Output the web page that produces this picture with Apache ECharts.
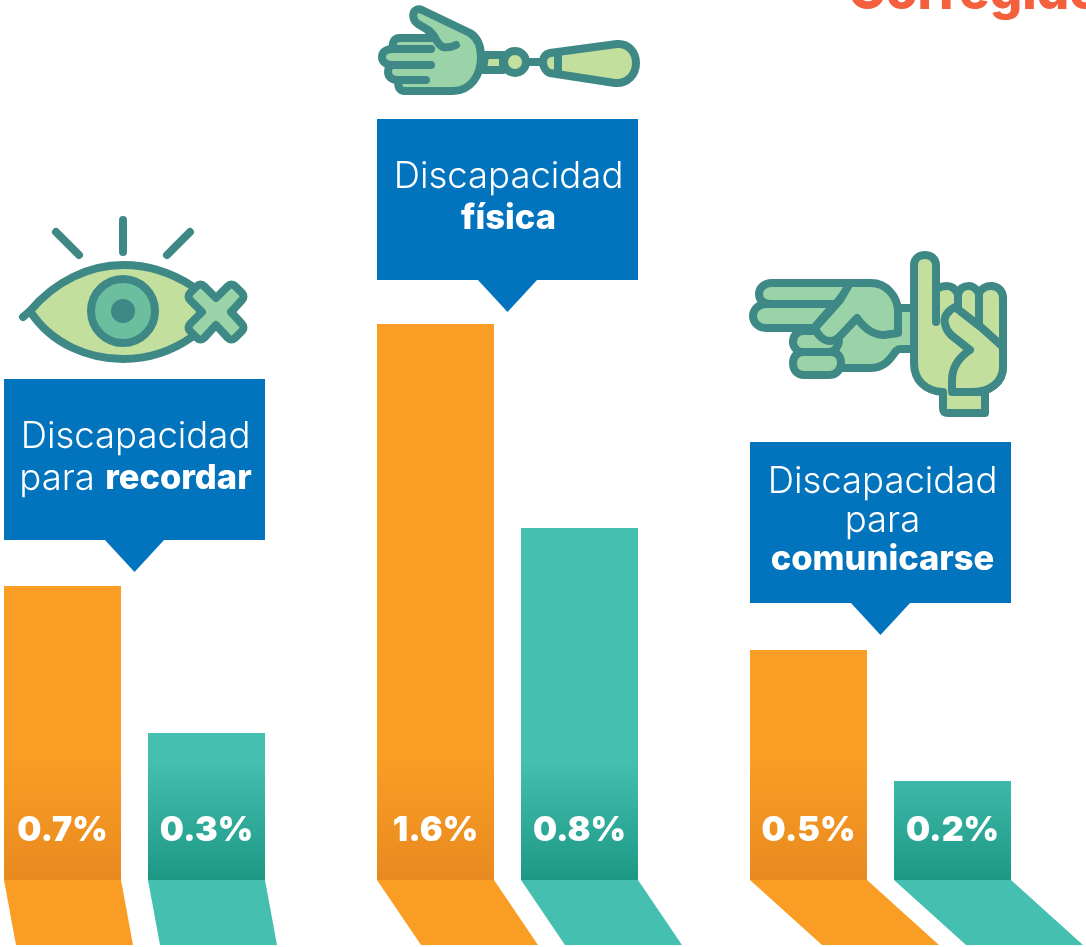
<!DOCTYPE html>
<html>
<head>
<meta charset="utf-8">
<style>html,body{margin:0;padding:0;background:#fff}#c{width:1086px;height:947px}</style>
<script src="https://cdn.jsdelivr.net/npm/echarts@6/dist/echarts.min.js"></script>
</head>
<body>
<div id="c"></div>
<script>
// ---- data ----
const seriesKeys = ['Sin corregir', 'Corregido'];
const recordarHeights = [0.846, 0.423];   // drawn bar heights (the picture is not to scale with its labels)
const fisicaHeights = [1.6, 1.013];
const comunicarseHeights = [0.662, 0.285];
const recordarLabels = ['0.7%', '0.3%'];
const fisicaLabels = ['1.6%', '0.8%'];
const comunicarseLabels = ['0.5%', '0.2%'];
const recordarCallout = '{l|Discapacidad}\n{l|para }{b|recordar}';
const fisicaCallout = '{l|Discapacidad}\n{b|física}';
const comunicarseCallout = '{l|Discapacidad}\n{l|para}\n{b|comunicarse}';
const cornerTitle = 'Corregido';

// ---- styling ----
const FONT = 'Inter';
const ORANGE = '#F99D25', ORANGE_D = '#E88A1F', TEAL = '#45BFB0', TEAL_D = '#1D9885', BLUE = '#0274BD';
const INK = '#3E8885', LEAF = '#C3DF9E', MINT = '#9BD3A8', IRIS = '#6BBE9E';
const BAR_W = 117, BAND = 144, TOP = 324, BASE = 880, FOOT = 65;

const groups = [
  {left: -9.5, heights: recordarHeights, labels: recordarLabels, callout: recordarCallout, skew: 12, gap: 46, lh: 42, tx: 1},
  {left: 363.5, heights: fisicaHeights, labels: fisicaLabels, callout: fisicaCallout, skew: 44, gap: 44, lh: 42, tx: 1},
  {left: 736.5, heights: comunicarseHeights, labels: comunicarseLabels, callout: comunicarseCallout, skew: 72, gap: 47, lh: 38.5, tx: 2}
];
const topColors = [ORANGE, TEAL];
const darkColors = [ORANGE_D, TEAL_D];

function shade(i) {
  return {type: 'linear', x: 0, y: 760, x2: 0, y2: BASE, global: true,
    colorStops: [{offset: 0, color: topColors[i]}, {offset: 1, color: darkColors[i]}]};
}

const grid = [], xAxis = [], yAxis = [], series = [];
groups.forEach((g, k) => {
  grid.push({left: g.left, width: BAND * 2, top: TOP, height: BASE - TOP, containLabel: false, outerBoundsMode: 'none'});
  xAxis.push({type: 'category', gridIndex: k, data: seriesKeys, show: false});
  yAxis.push({type: 'value', gridIndex: k, min: 0, max: 1.6, show: false});
  series.push({
    type: 'custom', xAxisIndex: k, yAxisIndex: k, silent: true, z: 1,
    data: g.heights.map((h, i) => [i, 0]),
    renderItem(params, api) {
      const i = api.value(0), p = api.coord([i, 0]);
      const l = p[0] - BAR_W / 2, r = p[0] + BAR_W / 2, y = p[1];
      return {type: 'polygon', shape: {points: [[l, y], [r, y], [r + g.skew, y + FOOT], [l + g.skew, y + FOOT]]},
        style: {fill: topColors[i]}};
    }
  });
  series.push({
    type: 'bar', xAxisIndex: k, yAxisIndex: k, barWidth: BAR_W, silent: true, z: 2,
    data: g.heights.map((h, i) => ({value: h, itemStyle: {color: shade(i)},
      label: {show: true, position: 'insideBottom', distance: 32, formatter: g.labels[i],
        color: '#fff', fontFamily: FONT, fontWeight: 900, fontSize: 34}}))
  });
  series.push({
    type: 'custom', xAxisIndex: k, yAxisIndex: k, silent: true, z: 3,
    data: [[0, g.heights[0]]],
    renderItem(params, api) {
      const p = api.coord([0, api.value(1)]);
      const l = p[0] - BAR_W / 2, w = BAND + BAR_W, b = p[1] - g.gap, t = b - 161;
      const cx = l + w / 2;
      return {type: 'group', children: [
        {type: 'rect', shape: {x: l, y: t, width: w, height: 161}, style: {fill: BLUE}},
        {type: 'polygon', shape: {points: [[cx - 30, b - 0.5], [cx + 30, b - 0.5], [cx, b + 32]]}, style: {fill: BLUE}},
        {type: 'text', x: cx + g.tx, y: t + 79, style: {
          text: g.callout, align: 'center', verticalAlign: 'middle', fill: '#fff',
          rich: {
            l: {fontFamily: FONT, fontWeight: 300, fontSize: 36.5, lineHeight: g.lh, fill: '#fff'},
            b: {fontFamily: FONT, fontWeight: 800, fontSize: 34.5, lineHeight: g.lh, fill: '#fff'}
          }
        }}
      ]};
    }
  });
});

// ---- pictograms ----
const ink = {stroke: INK, lineWidth: 8, lineJoin: 'round', lineCap: 'round'};
function P(d, fill) { return {type: 'path', shape: {pathData: d}, style: Object.assign({}, ink, {fill: fill || 'none'})}; }
function C(x, y, r, fill, noStroke) {
  return {type: 'circle', shape: {cx: x, cy: y, r}, style: noStroke ? {fill} : Object.assign({}, ink, {fill})};
}
const icons = [
  // eye
  P('M56,232L79,255M123,220L123,252M190,232L167,255'),
  P('M30,311C55,281 90,265 123,265C150,265 172,273 192,286L205,312L192,337C172,351 150,359 123,359C90,359 52,345 30,311Z', LEAF),
  P('M23,317L30,311'),
  C(123, 311, 32, IRIS), C(123, 311, 12, INK, true),
  P('M216,298L228,286C230,284 233,284 235,286L242,293C244,295 244,298 242,300L231,312L242,324C244,326 244,329 242,331L235,338C233,340 230,340 228,338L216,325L204,338C202,340 199,340 197,338L190,331C188,329 188,326 190,324L202,312L190,300C188,298 188,295 190,293L197,286C199,284 202,284 204,286Z', MINT),
  // arm
  P('M485,55L503,55L503,70L483,70Z', LEAF),
  P('M530,62L542,62'),
  C(515, 62, 11, LEAF),
  P('M543,62C543,57 546,54 550,53L617,44C628,43 636,52 636,63C636,75 627,84 615,83L550,73C546,72 543,67 543,62Z', LEAF),
  P('M558,54L558,72'),
  P('M422,10L470,33C478,38 481,48 481,57C481,76 470,91 453,91L405,91C399,91 398,87 398,80C391,80 388,76 388,72C388,68 390,65 393,65C386,65 382,62 382,57C382,52 386,49 393,49C392,44 393,38 400,38L432,38L428,30L418,24C412,20 412,12 416,10C418,9 420,9 422,10Z', MINT),
  P('M428,30C436,35 436,44 443,47C448,48 452,47 456,45M393,49L431,49M393,65L431,65M398,80L426,80'),
  // pointing hand
  {type: 'path', shape: {pathData: 'M780,283L871,283C887,283 897,297 897,310L913,310L913,349L900,349C893,349 891,368 870,368L830,368L830,335L780,328Z'}, style: {fill: MINT}},
  P('M913,308L898,308M913,349L900,349C893,349 891,368 870,368L838,368'),
  P('M803,352L831,352C838,352 841,357 841,363C841,370 836,375 829,375L804,375C797,375 793,370 793,363C793,357 797,352 803,352Z', MINT),
  P('M803,331L831,331C836,333 841,337 838,345C836,350 832,352 828,352L803,352C797,352 793,347 793,342C793,336 797,331 803,331Z', MINT),
  P('M853,283L772,283C763,283 759,289 759,294C759,300 763,304 772,304L836,304L850,286Z', MINT),
  P('M772,304L766,304C758,304 753,310 753,316C753,322 758,328 766,328L814,328L835,304Z', MINT),
  P('M815,328C818,336 824,341 830,341C836,341 838,338 842,334L857,318C864,328 872,335 884,335L898,333L898,310C897,297 887,283 871,283L850,283L840,300Z', MINT),
  // raised hand
  P('M914,265C914,258 920,255 925,255C931,255 936,259 936,265L936,291C938,287 942,286 947,286C953,286 956,290 958,294C960,288 964,286 969,286C974,286 977,290 979,293C982,288 986,286 991,286C998,286 1003,291 1003,298L1003,367C1003,382 990,392 973,392L985,392L985,413L948,413C944,413 943,411 943,408L943,392C925,391 914,380 914,363Z', LEAF),
  P('M936,291L936,322M958,294L958,310M979,293L979,322'),
  P('M955,307C947,311 943,318 945,324C946,329 948,332 951,335L970,350C958,358 952,367 952,380L952,392L973,392C990,392 1003,382 1003,367L1003,347L982,328Z', LEAF)
];
series.push({
  type: 'custom', xAxisIndex: 0, yAxisIndex: 0, silent: true, z: 5,
  data: [[0, 0]],
  renderItem() { return {type: 'group', children: icons}; }
});

const chart = echarts.init(document.getElementById('c'), null, {renderer: 'canvas', width: 1086, height: 947});
chart.setOption({
  animation: false,
  backgroundColor: '#fff',
  grid, xAxis, yAxis, series,
  graphic: {elements: [
    {type: 'text', z: 10, silent: true, x: 848, y: 19, style: {text: cornerTitle, fill: '#F4603D',
      font: '800 51px ' + FONT, verticalAlign: 'bottom'}}
  ]}
});
</script>
</body>
</html>
